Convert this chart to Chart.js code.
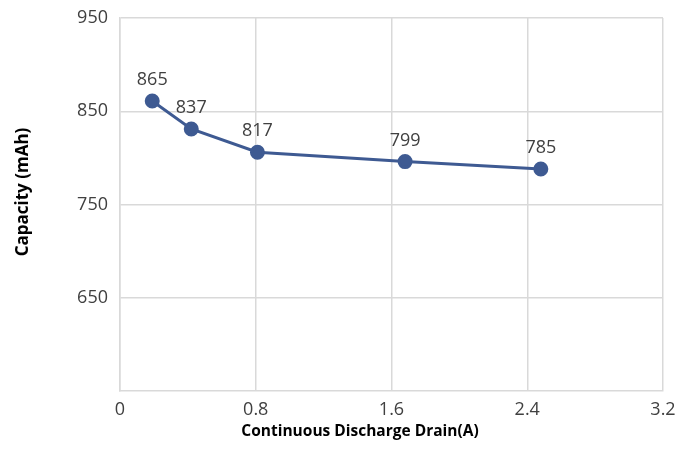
<!DOCTYPE html>
<html>
<head>
<meta charset="utf-8">
<script src="https://cdn.jsdelivr.net/npm/chart.js@4.4.1/dist/chart.umd.min.js"></script>
<style>
  html, body { margin: 0; padding: 0; background: #fff; }
  #wrap { width: 679px; height: 470px; }
</style>
</head>
<body>
<div id="wrap"><canvas id="chart"></canvas></div>
<script>
// values
var drain = [0.19, 0.42, 0.81, 1.68, 2.48];
var capacity = [861, 831, 806, 796, 788];
var capacityLabels = ['865', '837', '817', '799', '785'];
var xTicks = [0, 0.8, 1.6, 2.4, 3.2];
var yTicks = [650, 750, 850, 950];

var FONT = "'Open Sans', sans-serif";

// data labels above the points + axis titles
var labelsPlugin = {
  id: 'pointLabels',
  afterDatasetsDraw: function(chart) {
    var ctx = chart.ctx;
    var meta = chart.getDatasetMeta(0);
    ctx.save();
    ctx.font = '18px ' + FONT;
    ctx.fillStyle = '#404040';
    ctx.textAlign = 'center';
    ctx.textBaseline = 'middle';
    meta.data.forEach(function(pt, i) {
      ctx.fillText(capacityLabels[i], pt.x, pt.y - 21);
    });
    ctx.restore();
  },
  afterDraw: function(chart) {
    var ctx = chart.ctx;
    ctx.save();
    ctx.fillStyle = '#000';
    ctx.textAlign = 'center';
    ctx.textBaseline = 'middle';
    ctx.font = 'bold 15.5px ' + FONT;
    ctx.fillText('Continuous Discharge Drain(A)', 360, 432);
    ctx.font = 'bold 17px ' + FONT;
    ctx.translate(23.5, 192);
    ctx.rotate(-Math.PI / 2);
    ctx.fillText('Capacity (mAh)', 0, 0);
    ctx.restore();
  }
};

new Chart(document.getElementById('chart'), {
  type: 'scatter',
  data: {
    datasets: [{
      data: drain.map(function(x, i) { return { x: x, y: capacity[i] }; }),
      showLine: true,
      borderColor: '#3E5A92',
      backgroundColor: '#3E5A92',
      borderWidth: 3,
      pointRadius: 6,
      pointHoverRadius: 6
    }]
  },
  options: {
    responsive: true,
    maintainAspectRatio: false,
    animation: false,
    layout: { padding: { top: 18, right: 16, left: 0, bottom: 0 } },
    plugins: {
      legend: { display: false },
      tooltip: { enabled: false }
    },
    scales: {
      x: {
        type: 'linear',
        min: 0,
        max: 3.2,
        afterBuildTicks: function(scale) {
          scale.ticks = xTicks.map(function(v) { return { value: v }; });
        },
        afterFit: function(scale) {
          scale.height = 79;
          scale.paddingLeft = 0;
          scale.paddingRight = 0;
        },
        grid: { color: '#D9D9D9', lineWidth: 1.5, drawTicks: false },
        border: { color: '#D9D9D9', width: 1.5 },
        ticks: {
          padding: 8,
          color: '#404040',
          font: { family: FONT, size: 18 },
          maxRotation: 0
        }
      },
      y: {
        type: 'linear',
        min: 550,
        max: 950,
        afterBuildTicks: function(scale) {
          scale.ticks = yTicks.map(function(v) { return { value: v }; });
        },
        afterFit: function(scale) {
          scale.width = 120;
          scale.paddingTop = 0;
          scale.paddingBottom = 0;
        },
        grid: { color: '#D9D9D9', lineWidth: 1.5, drawTicks: false },
        border: { color: '#D9D9D9', width: 1.5 },
        ticks: {
          padding: 12,
          color: '#404040',
          font: { family: FONT, size: 18 }
        }
      }
    }
  },
  plugins: [labelsPlugin]
});
</script>
</body>
</html>
